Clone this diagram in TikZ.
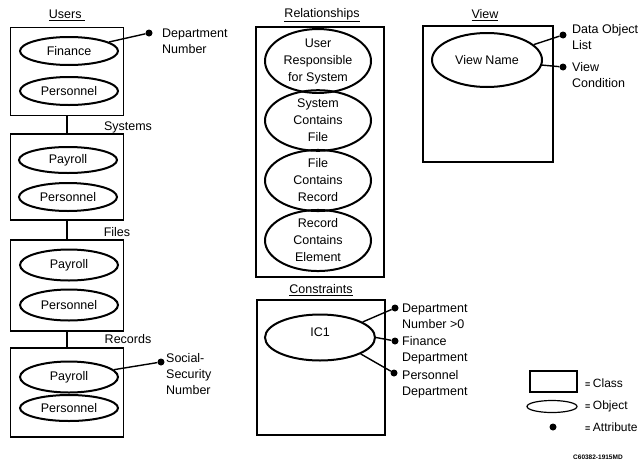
\documentclass[tikz,border=0pt]{standalone}
\usepackage{fontspec}
\setmainfont{Liberation Sans}
\usetikzlibrary{shapes.geometric}

\tikzset{
  txt/.style={font=\fontsize{12.5pt}{16pt}\selectfont, inner sep=0pt},
  classbox/.style={draw, line width=1.3pt, inner sep=0pt},
  obj/.style={ellipse, draw, line width=2pt, inner sep=0pt, align=center,
              font=\fontsize{12.5pt}{17pt}\selectfont},
  attr/.style={circle, fill, inner sep=0pt, minimum size=7pt},
  attrtxt/.style={txt, anchor=west, align=left},
  heading/.style={txt},
  legendtxt/.style={anchor=west, inner sep=0pt, font=\fontsize{12pt}{14pt}\selectfont},
  link/.style={line width=1.4pt},
}
\newcommand{\legeq}{{\fontsize{9pt}{9pt}\selectfont\bfseries =}\hspace{2.5pt}}

\begin{document}
\begin{tikzpicture}[x=1pt, y=-1pt]
\useasboundingbox (0,0) rectangle (639,461);

% ---------------- Users / Systems / Files / Records ----------------
\node[heading] (usersT) at (67,15) {\underline{Users\ }};
\node[classbox, minimum width=113pt, minimum height=88pt] (users) at (67,71.5) {};
\node[obj, minimum width=98pt, minimum height=28pt] (fin) at (69,51) {Finance};
\node[obj, minimum width=98pt, minimum height=28pt] (perU) at (69,91) {Personnel};
\node[attr] (dDept) at (149,33) {};
\node[attrtxt] (tDept) at (162,41) {Department\\Number};
\draw[link] (fin) -- (dDept);

\node[heading] (sysT) at (128,127) {Systems};
\node[classbox, minimum width=113pt, minimum height=86pt] (systems) at (67,177) {};
\node[obj, minimum width=98pt, minimum height=26pt] (payS) at (68,160) {Payroll};
\node[obj, minimum width=98pt, minimum height=28pt] (perS) at (68,197) {Personnel};

\node[heading] (filesT) at (117,232) {Files};
\node[classbox, minimum width=113pt, minimum height=91pt] (files) at (67,285.5) {};
\node[obj, minimum width=98pt, minimum height=31pt] (payF) at (69,265) {Payroll};
\node[obj, minimum width=98pt, minimum height=31pt] (perF) at (69,305) {Personnel};

\node[heading] (recT) at (128,339) {Records};
\node[classbox, minimum width=113pt, minimum height=89pt] (records) at (67,392.5) {};
\node[obj, minimum width=98pt, minimum height=31pt] (payR) at (69,377) {Payroll};
\node[obj, minimum width=98pt, minimum height=26pt] (perR) at (69,408) {Personnel};
\node[attr] (dSSN) at (161,362) {};
\node[attrtxt] (tSSN) at (166,374) {Social-\\Security\\Number};
\draw[link] (payR) -- (dSSN);

\draw[link] (users.south) -- (systems.north);
\draw[link] (systems.south) -- (files.north);
\draw[link] (files.south) -- (records.north);

% ---------------- Relationships ----------------
\node[heading] (relT) at (322,15) {\underline{Relationships}};
\node[classbox, minimum width=128pt, minimum height=250pt] (rel) at (320,152) {};
\node[obj, minimum width=106pt, minimum height=53pt] (r1) at (318,61) {User\\Responsible\\for System};
\node[obj, minimum width=106pt, minimum height=55pt] (r2) at (318,120.5) {System\\Contains\\File};
\node[obj, minimum width=106pt, minimum height=56pt] (r3) at (318,180.5) {File\\Contains\\Record};
\node[obj, minimum width=106pt, minimum height=55pt] (r4) at (318,240.5) {Record\\Contains\\Element};

% ---------------- Constraints ----------------
\node[heading] (conT) at (321,290) {\underline{Constraints}};
\node[classbox, minimum width=128pt, minimum height=135pt] (con) at (321,367.5) {};
\node[obj, minimum width=110pt, minimum height=46pt] (ic) at (320,337.5) {\raisebox{11pt}{IC1}};
\node[attr] (dC1) at (395,308) {};
\node[attr] (dC2) at (395,341) {};
\node[attr] (dC3) at (394,373) {};
\node[attrtxt] (tC1) at (402,316.5) {Department\\Number >0};
\node[attrtxt] (tC2) at (402,350) {Finance\\Department};
\node[attrtxt] (tC3) at (402,384.5) {Personnel\\Department};
\draw[link] (ic.20) -- (dC1);
\draw[link] (ic.0) -- (dC2);
\draw[link] (ic.-22) -- (dC3);

% ---------------- View ----------------
\node[heading] (viewT) at (485,15) {\underline{View}};
\node[classbox, minimum width=130pt, minimum height=136pt] (view) at (488,94) {};
\node[obj, minimum width=110pt, minimum height=54pt] (vn) at (487,60) {View Name};
\node[attr] (dV1) at (563,35) {};
\node[attr] (dV2) at (563,67) {};
\node[attrtxt] (tV1) at (572,37) {Data Object\\List};
\node[attrtxt] (tV2) at (572,75) {View\\Condition};
\draw[link] (vn) -- (dV1);
\draw[link] (vn) -- (dV2);

% ---------------- Legend ----------------
\node[classbox, minimum width=47pt, minimum height=21pt] (lgBox) at (553.5,381.5) {};
\node[ellipse, draw, line width=1.2pt, inner sep=0pt, minimum width=50pt, minimum height=12pt] (lgObj) at (552,406.5) {};
\node[attr] (lgDot) at (553,427) {};
\node[legendtxt] (lgT1) at (585,383) {\legeq Class};
\node[legendtxt] (lgT2) at (585,406.5) {\legeq Object};
\node[legendtxt] (lgT3) at (585,427) {\legeq Attribute};
\node[anchor=west, inner sep=0pt, font=\fontsize{6.5pt}{8pt}\selectfont\bfseries] (code) at (573,457) {C60382-1915MD};
\end{tikzpicture}
\end{document}
